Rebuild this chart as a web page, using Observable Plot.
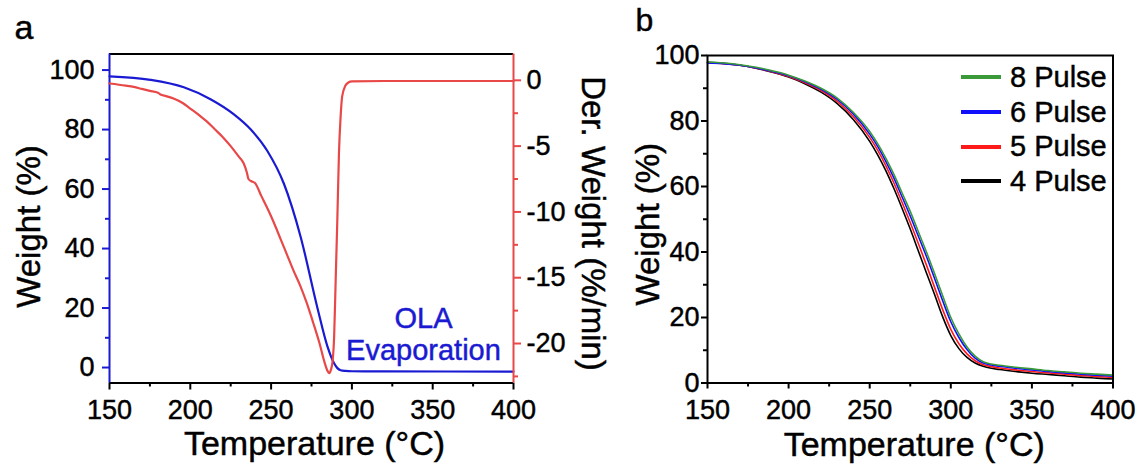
<!DOCTYPE html>
<html>
<head>
<meta charset="utf-8">
<script src="https://cdn.jsdelivr.net/npm/d3@7"></script>
<script src="https://cdn.jsdelivr.net/npm/@observablehq/plot@0.6"></script>
<style>
  body { margin: 0; background: #fff; font-family: "Liberation Sans", Arial, sans-serif; }
  #wrap { position: relative; width: 1145px; height: 466px; overflow: hidden; background: #fff; }
  #wrap svg { position: absolute; top: 0; }
  #wrap svg text { stroke: #000; stroke-width: 0.45px; }
  #wrap svg g[fill="#1a1ad2"] text { stroke: #1a1ad2; }
  .leg { position: absolute; left: 961px; display: flex; align-items: center; height: 34px; font-size: 29px; color: #000; white-space: nowrap; -webkit-text-stroke: 0.45px #000; }
  .leg .sw { width: 40px; height: 4px; margin-right: 9px; }
</style>
</head>
<body>
<div id="wrap"></div>
<script>
// ---------- Panel a : TGA of OLA ----------
const tempA   = [150,175.4,196,212.5,227,237.3,247.7,258,268.3,278.6,284.8,288.9,291,293,296,300,320,400];
const weightA = [97.9,96.7,94.2,90.2,85.1,80.1,72.8,61.7,43.9,20.2,7.2,1.5,-0.2,-0.9,-1.15,-1.25,-1.3,-1.35];

const tempDer = [150,160,165,170,175,180,182,185,190,195,200,206,210,215,220,225,230,233,235,236,237.5,240,244,248,252,256,260,264,268,272,276,280,283,285,286,287,288,289,290,291,292,293,294,296,298,300,320,400];
const derA    = [-0.24,-0.4,-0.5,-0.65,-0.8,-0.95,-1.1,-1.2,-1.4,-1.7,-2.15,-2.7,-3.1,-3.7,-4.3,-5.0,-5.8,-6.3,-7.0,-7.5,-7.65,-7.8,-8.8,-9.8,-10.9,-12.1,-13.3,-14.5,-15.6,-16.9,-18.4,-20.0,-21.4,-22.1,-22.25,-22.0,-21.4,-19.5,-15.0,-10.5,-5.5,-2.8,-1.2,-0.4,-0.15,-0.08,-0.05,-0.05];

// ---------- Panel b : pulses ----------
const tempB  = [150,160,170,180,190,200,210,220,230,240,250,255,260,265,270,275,280,285,290,295,300,305,310,315,320,325,330,340,350,360,370,380,390,400];
const pulse8 = [98.0,97.7,97.2,96.4,95.3,94.0,92.2,90.0,87.0,82.6,76.8,73.0,68.6,63.6,58.0,52.4,46.2,40.0,33.4,26.6,20.0,15.0,11.0,8.2,6.5,5.8,5.4,4.8,4.3,3.8,3.4,3.0,2.7,2.4];
const pulse6 = [97.7,97.5,97.0,96.2,95.1,93.8,92.0,89.7,86.6,82.1,76.0,72.2,67.6,62.5,56.8,51.0,44.8,38.6,31.9,25.1,18.7,13.9,10.2,7.6,6.1,5.5,5.1,4.5,4.0,3.5,3.1,2.7,2.4,2.1];
const pulse5 = [97.8,97.5,97.0,96.1,95.0,93.6,91.7,89.3,86.0,81.3,75.0,71.0,66.3,61.0,55.1,49.0,42.6,36.0,29.2,22.4,16.4,12.0,8.9,6.8,5.6,5.0,4.6,4.0,3.5,3.1,2.7,2.3,2.0,1.7];
const pulse4 = [97.9,97.6,97.0,96.1,94.9,93.4,91.4,88.8,85.3,80.4,73.8,69.6,64.8,59.3,53.3,47.0,40.3,33.6,27.0,20.2,14.5,10.5,7.8,6.1,5.1,4.5,4.1,3.5,3.0,2.6,2.2,1.8,1.5,1.2];
const seriesNames  = ["4 Pulse","5 Pulse","6 Pulse","8 Pulse"];
const seriesValues = [pulse4, pulse5, pulse6, pulse8];
const seriesColors = ["#000000","#ff1a1a","#1010ff","#3a9a3a"];
const legendOrder  = ["8 Pulse","6 Pulse","5 Pulse","4 Pulse"];

// ---------- ticks ----------
const xTicks      = [150,200,250,300,350,400];
const xMinorTicks = [175,225,275,325,375];
const wTicks      = [0,20,40,60,80,100];
const wMinorTicks = [10,30,50,70,90];
const dTicks      = [0,-5,-10,-15,-20];
const dMinorTicks = [-2.5,-7.5,-12.5,-17.5,-22.5];

const FONT = "'Liberation Sans', Arial, sans-serif";
const BLUE = "#1a1ad2", RED = "#e84848";
const TICKFS = 27, XTITLEFS = 34, YTITLEFS = 33;
const H = 466;

const dataA = tempA.map((t, i) => ({t, w: weightA[i]}));
const dataD = tempDer.map((t, i) => ({t, d: derA[i]}));
const dataB = [];
seriesNames.forEach((n, k) => tempB.forEach((t, i) => dataB.push({t, w: seriesValues[k][i], s: n})));

const wrap = document.getElementById("wrap");

// Panel a, left axis (weight)
const aDomainW = [-5.2, 105.4];
const plotA = Plot.plot({
  width: 620, height: H, marginLeft: 109, marginRight: 107, marginTop: 53.5, marginBottom: 83.5,
  style: {fontFamily: FONT, background: "transparent", overflow: "visible"},
  x: {domain: [150, 400]},
  y: {domain: aDomainW},
  marks: [
    Plot.axisX({ticks: xTicks, tickSize: 7, tickPadding: 10, fontSize: TICKFS, label: null, stroke: "black", fill: "black", strokeWidth: 2}),
    Plot.axisX({ticks: xMinorTicks, tickSize: 4, tickFormat: () => "", label: null, stroke: "black", strokeWidth: 2}),
    Plot.axisY({ticks: wTicks, tickSize: 7, tickPadding: 8, fontSize: TICKFS, label: null, stroke: BLUE, fill: "black", strokeWidth: 2}),
    Plot.axisY({ticks: wMinorTicks, tickSize: 4, tickFormat: () => "", label: null, stroke: BLUE, strokeWidth: 2}),
    Plot.line(dataA, {x: "t", y: "w", stroke: BLUE, strokeWidth: 2.2, curve: "monotone-x"}),
    Plot.ruleY([aDomainW[0]], {stroke: "black", strokeWidth: 2}),
    Plot.ruleY([aDomainW[1]], {stroke: "black", strokeWidth: 2}),
    Plot.ruleX([150], {stroke: BLUE, strokeWidth: 2}),
    Plot.text(["Temperature (°C)"], {frameAnchor: "bottom", text: d => d, textAnchor: "middle", lineAnchor: "bottom", dx: 3, dy: 72, fontSize: XTITLEFS, fill: "black"}),
    Plot.text(["Weight (%)"], {frameAnchor: "left", text: d => d, textAnchor: "middle", rotate: -90, dx: -80, dy: 8, fontSize: YTITLEFS, fill: "black"}),
    Plot.text(["OLA\nEvaporation"], {frameAnchor: "bottom-right", text: d => d, textAnchor: "middle", lineAnchor: "bottom", lineHeight: 1.1, dx: -90, dy: -23, fontSize: 29, fill: BLUE}),
    Plot.text(["a"], {frameAnchor: "top-left", text: d => d, textAnchor: "start", lineAnchor: "bottom", dx: -95, dy: -15.5, fontSize: 34, fill: "black"})
  ]
});
plotA.style.left = "0px";
wrap.appendChild(plotA);

// Panel a, right axis (derivative) overlay
const plotD = Plot.plot({
  width: 620, height: H, marginLeft: 109, marginRight: 107, marginTop: 53.5, marginBottom: 83.5,
  style: {fontFamily: FONT, background: "transparent", overflow: "visible"},
  x: {domain: [150, 400], axis: null},
  y: {domain: [-23, 2]},
  marks: [
    Plot.axisY({anchor: "right", ticks: dTicks, tickFormat: d => String(d), tickSize: 7, tickPadding: 6, fontSize: TICKFS, label: null, stroke: RED, fill: "black", strokeWidth: 2}),
    Plot.axisY({anchor: "right", ticks: dMinorTicks, tickFormat: () => "", tickSize: 4, label: null, stroke: RED, strokeWidth: 2}),
    Plot.line(dataD, {x: "t", y: "d", stroke: RED, strokeWidth: 2.2, curve: "monotone-x"}),
    Plot.ruleX([400], {stroke: RED, strokeWidth: 2}),
    Plot.text(["Der. Weight (%/min)"], {frameAnchor: "right", text: d => d, textAnchor: "middle", rotate: 90, dx: 79, dy: 5, fontSize: YTITLEFS, fill: "black"})
  ]
});
plotD.style.left = "0px";
wrap.appendChild(plotD);

// Panel b
const plotB = Plot.plot({
  width: 525, height: H, marginLeft: 87, marginRight: 32.5, marginTop: 55, marginBottom: 83.5,
  style: {fontFamily: FONT, background: "transparent", overflow: "visible"},
  x: {domain: [150, 400]},
  y: {domain: [0, 100]},
  color: {domain: seriesNames, range: seriesColors},
  marks: [
    Plot.axisX({ticks: xTicks, tickSize: 6, tickPadding: 11, fontSize: TICKFS, label: null, stroke: "black", fill: "black", strokeWidth: 2}),
    Plot.axisX({ticks: xMinorTicks, tickSize: 4, tickFormat: () => "", label: null, stroke: "black", strokeWidth: 2}),
    Plot.axisY({ticks: wTicks, tickSize: 6, tickPadding: 2, fontSize: TICKFS, label: null, stroke: "black", fill: "black", strokeWidth: 2}),
    Plot.axisY({ticks: wMinorTicks, tickSize: 4, tickFormat: () => "", label: null, stroke: "black", strokeWidth: 2}),
    Plot.line(dataB, {x: "t", y: "w", z: "s", stroke: "s", strokeWidth: 1.6, curve: "monotone-x"}),
    Plot.frame({stroke: "black", strokeWidth: 2}),
    Plot.text(["Temperature (°C)"], {frameAnchor: "bottom", text: d => d, textAnchor: "middle", lineAnchor: "bottom", dx: 4, dy: 72.5, fontSize: XTITLEFS, fill: "black"}),
    Plot.text(["Weight (%)"], {frameAnchor: "left", text: d => d, textAnchor: "middle", rotate: -90, dx: -59, dy: 5, fontSize: YTITLEFS, fill: "black"}),
    Plot.text(["b"], {frameAnchor: "top-left", text: d => d, textAnchor: "start", lineAnchor: "bottom", dx: -72, dy: -25, fontSize: 32, fill: "black"})
  ]
});
plotB.style.left = "620px";
wrap.appendChild(plotB);

// Legend for panel b
const legendTop = [77, 112, 146.5, 181];
legendOrder.forEach((n, i) => {
  const row = document.createElement("div");
  row.className = "leg";
  row.style.top = (legendTop[i] - 17) + "px";
  const sw = document.createElement("div");
  sw.className = "sw";
  sw.style.background = seriesColors[seriesNames.indexOf(n)];
  const tx = document.createElement("span");
  tx.textContent = n;
  row.appendChild(sw);
  row.appendChild(tx);
  wrap.appendChild(row);
});
</script>
</body>
</html>
